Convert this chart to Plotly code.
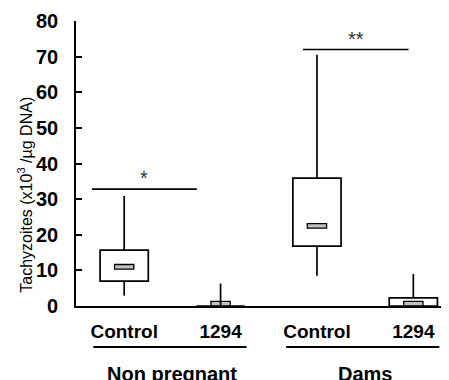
import plotly.graph_objects as go

# ---- data ----
categories = ["Control", "1294", "Control", "1294"]
positions = [0, 1, 2, 3]
q1 = [7.0, 0.0, 16.8, 0.0]
median = [11.0, 0.6, 22.5, 0.6]
q3 = [15.7, 0.0, 35.9, 2.3]
lower = [2.9, 0.0, 8.5, 0.0]
upper = [30.9, 6.3, 70.5, 9.0]

groups = ["Non pregnant", "Dams"]
group_start = [0, 2]
group_end = [1, 3]

sig_text = ["*", "**"]
sig_y = [32.8, 72.0]
sig_x0 = [-0.335, 1.855]
sig_x1 = [0.753, 2.95]

FONT = "Liberation Sans, Arial, sans-serif"
BOX_W = 0.5
MED_W = 0.2
MED_H = 1.3

fig = go.Figure()

# boxes
fig.add_trace(go.Bar(
    x=positions, base=q1, y=[b - a for a, b in zip(q1, q3)], width=BOX_W,
    marker=dict(color="white", line=dict(color="black", width=1.7)),
    hoverinfo="skip", showlegend=False))

# median markers
fig.add_trace(go.Bar(
    x=positions, base=[m - MED_H / 2 if m - MED_H / 2 > 0 else 0 for m in median],
    y=[MED_H] * len(median), width=MED_W,
    marker=dict(color="#c0c0c0", line=dict(color="black", width=1.3)),
    hoverinfo="skip", showlegend=False))

# whiskers
wx, wy = [], []
for p, a, b, lo, hi in zip(positions, q1, q3, lower, upper):
    wx += [p, p, None, p, p, None]
    wy += [b, hi, None, a, lo, None]
fig.add_trace(go.Scatter(x=wx, y=wy, mode="lines",
                         line=dict(color="black", width=1.7),
                         hoverinfo="skip", showlegend=False))

# significance lines
sx, sy = [], []
for a, b, y in zip(sig_x0, sig_x1, sig_y):
    sx += [a, b, None]
    sy += [y, y, None]
fig.add_trace(go.Scatter(x=sx, y=sy, mode="lines",
                         line=dict(color="black", width=1.7),
                         hoverinfo="skip", showlegend=False))

annotations = []
for a, b, y, t in zip(sig_x0, sig_x1, sig_y, sig_text):
    annotations.append(dict(x=(a + b) / 2, y=y, xref="x", yref="y", text=t,
                            showarrow=False, yanchor="bottom", yshift=-2,
                            font=dict(family=FONT, size=20, color="#333")))

shapes = []
for g, s, e in zip(groups, group_start, group_end):
    shapes.append(dict(type="line", xref="x", yref="paper",
                       x0=s - 0.32, x1=e + 0.27, y0=-0.1437, y1=-0.1437,
                       line=dict(color="black", width=2)))
    annotations.append(dict(x=(s + e) / 2, y=-0.238, xref="x", yref="paper",
                            text="<b>%s</b>" % g, showarrow=False,
                            yanchor="middle",
                            font=dict(family=FONT, size=20, color="black")))

annotations.append(dict(x=-0.137, y=0.39, xref="paper", yref="paper",
                        text="Tachyzoites (x10<sup>3</sup> /µg DNA)",
                        textangle=-90, showarrow=False,
                        xanchor="center", yanchor="middle",
                        font=dict(family=FONT, size=16, color="black")))

# page body has an 8px margin; size the figure so the plot lands where the reference has it
fig.update_layout(
    width=441, height=372,
    margin=dict(l=68, r=0, t=13, b=74),
    paper_bgcolor="white", plot_bgcolor="white",
    barmode="overlay",
    shapes=shapes, annotations=annotations,
    xaxis=dict(range=[-0.5, 3.37], tickvals=positions,
               ticktext=["<b>%s</b>" % c for c in categories],
               showline=True, linecolor="black", linewidth=1.7,
               ticks="", showgrid=False, zeroline=False,
               ticklabelstandoff=7,
               tickfont=dict(family=FONT, size=19, color="black")),
    yaxis=dict(range=[0, 80], tickvals=list(range(0, 81, 10)),
               ticktext=["<b>%d</b>" % v for v in range(0, 81, 10)],
               showline=True, linecolor="black", linewidth=1.7,
               ticks="inside", ticklen=6, tickwidth=1.7, tickcolor="black",
               showgrid=False, zeroline=False,
               ticklabelstandoff=12,
               tickfont=dict(family=FONT, size=20, color="black")),
)

fig.write_html("out.html")
